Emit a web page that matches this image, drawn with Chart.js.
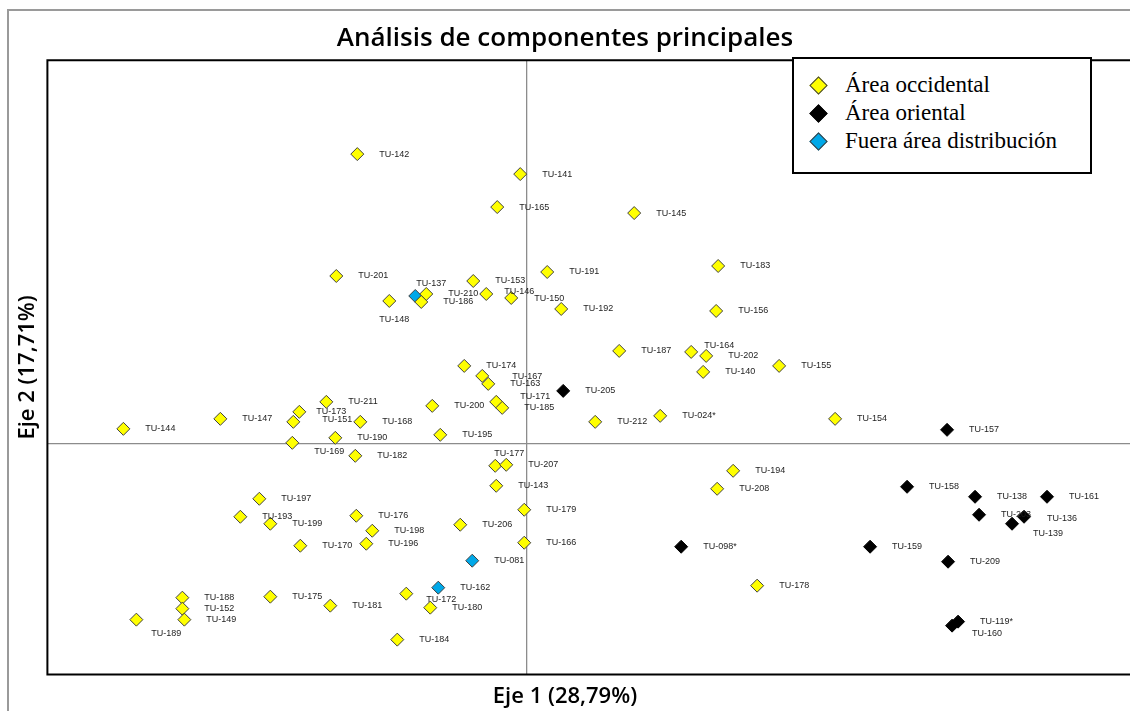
<!DOCTYPE html>
<html>
<head>
<meta charset="utf-8">
<script src="https://cdn.jsdelivr.net/npm/chart.js@4.4.1/dist/chart.umd.min.js"></script>
<style>
  html, body { margin: 0; padding: 0; background: #fff; overflow: hidden; }
  #wrap { position: relative; width: 1130px; height: 711px; overflow: hidden; }
  #frame { position: absolute; left: 7px; top: 9px; width: 1121px; height: 700px;
           border-left: 2px solid #9a9a9a; border-top: 2px solid #9a9a9a; }
  #chart { position: absolute; left: 0; top: 0; }
  #legend { position: absolute; left: 792px; top: 57px; width: 296px; height: 113px;
            border: 2px solid #000; background: #fff; z-index: 2; box-sizing: content-box; }
  .item { position: absolute; left: 0; height: 28px; display: flex; align-items: center;
          font-family: "Liberation Serif", "Times New Roman", serif; font-size: 23px; color: #000; }
  .item i { display: inline-block; width: 11px; height: 11px; transform: rotate(45deg);
            border: 1px solid #333; margin-left: 18px; margin-right: 20px; }
</style>
</head>
<body>
<div id="wrap">
  <div id="frame"></div>
  <canvas id="chart" width="1130" height="711"></canvas>
  <div id="legend"></div>
</div>
<script>
// Área occidental
let occNames = ['TU-142', 'TU-141', 'TU-165', 'TU-145', 'TU-201', 'TU-183', 'TU-191', 'TU-153',
    'TU-210', 'TU-186', 'TU-146', 'TU-150', 'TU-192', 'TU-148', 'TU-156', 'TU-187', 'TU-164',
    'TU-202', 'TU-140', 'TU-155', 'TU-212', 'TU-024*', 'TU-154', 'TU-144', 'TU-147', 'TU-173',
    'TU-151', 'TU-211', 'TU-168', 'TU-169', 'TU-190', 'TU-182', 'TU-174', 'TU-167', 'TU-163',
    'TU-200', 'TU-171', 'TU-185', 'TU-195', 'TU-177', 'TU-207', 'TU-143', 'TU-179', 'TU-206',
    'TU-166', 'TU-194', 'TU-208', 'TU-178', 'TU-197', 'TU-193', 'TU-199', 'TU-176', 'TU-198',
    'TU-196', 'TU-170', 'TU-188', 'TU-152', 'TU-149', 'TU-189', 'TU-175', 'TU-181', 'TU-172',
    'TU-180', 'TU-184'];
let occX = [-1.69, -0.06, -0.29, 1.08, -1.90, 1.92, 0.21, -0.53,
    -1.00, -1.05, -0.40, -0.15, 0.35, -1.37, 1.90, 0.93, 1.65,
    1.80, 1.77, 2.53, 0.69, 1.34, 3.09, -4.03, -3.06, -2.27,
    -2.33, -2.00, -1.66, -2.34, -1.91, -1.71, -0.62, -0.44, -0.38,
    -0.94, -0.30, -0.24, -0.86, -0.31, -0.20, -0.30, -0.02, -0.66,
    -0.02, 2.07, 1.91, 2.31, -2.67, -2.86, -2.56, -1.70, -1.54,
    -1.60, -2.26, -3.44, -3.44, -3.42, -3.90, -2.56, -1.96, -1.20,
    -0.96, -1.29];
let occY = [2.90, 2.70, 2.37, 2.31, 1.68, 1.78, 1.72, 1.63,
    1.50, 1.42, 1.50, 1.46, 1.35, 1.43, 1.33, 0.93, 0.92,
    0.88, 0.72, 0.78, 0.22, 0.28, 0.25, 0.15, 0.25, 0.32,
    0.22, 0.42, 0.22, 0.01, 0.06, -0.12, 0.78, 0.68, 0.60,
    0.38, 0.42, 0.36, 0.09, -0.22, -0.21, -0.42, -0.66, -0.81,
    -0.99, -0.27, -0.45, -1.42, -0.55, -0.73, -0.80, -0.72, -0.87,
    -1.00, -1.02, -1.54, -1.65, -1.76, -1.76, -1.53, -1.62, -1.50,
    -1.64, -1.96];

// Área oriental
let oriNames = ['TU-205', 'TU-157', 'TU-158', 'TU-138', 'TU-161', 'TU-203', 'TU-136', 'TU-139',
    'TU-098*', 'TU-159', 'TU-209', 'TU-119*', 'TU-160'];
let oriX = [0.37, 4.21, 3.81, 4.49, 5.21, 4.53, 4.98, 4.86, 1.55, 3.44, 4.22, 4.32, 4.26];
let oriY = [0.53, 0.14, -0.43, -0.53, -0.53, -0.71, -0.73, -0.80, -1.03, -1.03, -1.18, -1.78, -1.82];

// Fuera área distribución
let fueraNames = ['TU-137', 'TU-081', 'TU-162'];
let fueraX = [-1.11, -0.54, -0.88];
let fueraY = [1.48, -1.17, -1.44];

// label placement that is not plain "right of the point"
let labelOffsets = {
    'TU-137': [1, -12], 'TU-146': [18, -2], 'TU-150': [23, 1], 'TU-148': [-10, 19],
    'TU-164': [13, -6], 'TU-151': [29, -2], 'TU-173': [17, 0], 'TU-169': [22, 9],
    'TU-167': [30, 1], 'TU-171': [24, -5], 'TU-177': [-1, -12], 'TU-189': [15, 14],
    'TU-172': [20, 6], 'TU-160': [20, 8], 'TU-139': [21, 10], 'TU-136': [23, 2]
};

function points(xs, ys) {
    return xs.map((x, i) => ({ x: x, y: ys[i] }));
}

const pointLabels = {
    id: 'pointLabels',
    afterDatasetsDraw(chart) {
        const ctx = chart.ctx;
        ctx.save();
        ctx.font = '9px "Liberation Sans", Arial, sans-serif';
        ctx.fillStyle = '#1e1e1e';
        ctx.textBaseline = 'middle';
        chart.data.datasets.forEach((ds, i) => {
            chart.getDatasetMeta(i).data.forEach((pt, j) => {
                const name = ds.names[j];
                const off = labelOffsets[name] || [22, 0];
                ctx.fillText(name, pt.x + off[0], pt.y + off[1]);
            });
        });
        ctx.restore();
    }
};

const plotFrame = {
    id: 'plotFrame',
    beforeDatasetsDraw(chart) {
        const a = chart.chartArea;
        const ctx = chart.ctx;
        ctx.save();
        ctx.strokeStyle = '#000';
        ctx.lineWidth = 2;
        ctx.beginPath();
        ctx.moveTo(a.right + 5, a.top);
        ctx.lineTo(a.left, a.top);
        ctx.lineTo(a.left, a.bottom);
        ctx.lineTo(a.right + 5, a.bottom);
        ctx.stroke();
        ctx.restore();
    }
};

const axisGrid = {
    display: true,
    drawTicks: false,
    lineWidth: 1.3,
    color: (c) => (c.tick && c.tick.value === 0) ? '#8c8c8c' : 'rgba(0,0,0,0)'
};

const titleFont = { family: '"Open Sans", sans-serif', size: 22, weight: 600 };

let myChart = new Chart(document.getElementById('chart').getContext('2d'), {
    type: 'scatter',
    data: {
        datasets: [{
            label: 'Área occidental',
            names: occNames,
            data: points(occX, occY),
            backgroundColor: '#ffff00',
            borderColor: '#404040'
        }, {
            label: 'Área oriental',
            names: oriNames,
            data: points(oriX, oriY),
            backgroundColor: '#000000',
            borderColor: '#000000'
        }, {
            label: 'Fuera área distribución',
            names: fueraNames,
            data: points(fueraX, fueraY),
            backgroundColor: '#00a8e8',
            borderColor: '#404040'
        }]
    },
    options: {
        responsive: false,
        animation: false,
        events: [],
        elements: {
            point: { pointStyle: 'rectRot', radius: 6.5, borderWidth: 1 }
        },
        layout: { padding: 0, autoPadding: false },
        plugins: {
            legend: { display: false },
            tooltip: { enabled: false },
            title: {
                display: true,
                text: 'Análisis de componentes principales',
                color: '#000',
                font: { family: '"Open Sans", sans-serif', size: 26, weight: 600 },
                padding: { top: 23, bottom: 6 }
            },
            subtitle: {
                display: true,
                position: 'bottom',
                text: 'Eje 1 (28,79%)',
                color: '#000',
                font: titleFont,
                padding: { top: 9, bottom: 1 }
            }
        },
        scales: {
            x: {
                type: 'linear',
                min: -4.79,
                max: 6.04,
                ticks: { display: false, stepSize: 1 },
                grid: axisGrid,
                border: { display: false }
            },
            y: {
                type: 'linear',
                min: -2.31,
                max: 3.84,
                ticks: { display: false, stepSize: 1 },
                grid: axisGrid,
                border: { display: false },
                title: {
                    display: true,
                    text: 'Eje 2 (17,71%)',
                    color: '#000',
                    font: titleFont,
                    padding: { top: 15, bottom: 6 }
                }
            }
        }
    },
    plugins: [plotFrame, pointLabels]
});

// html legend built from the datasets
let legend = document.getElementById('legend');
myChart.data.datasets.forEach((ds, i) => {
    legend.insertAdjacentHTML('beforeend',
        `<div class="item" style="top:${12 + i * 28}px"><i style="background:${ds.backgroundColor};` +
        `border-color:${ds.borderColor}"></i>${ds.label}</div>`);
});
</script>
</body>
</html>
